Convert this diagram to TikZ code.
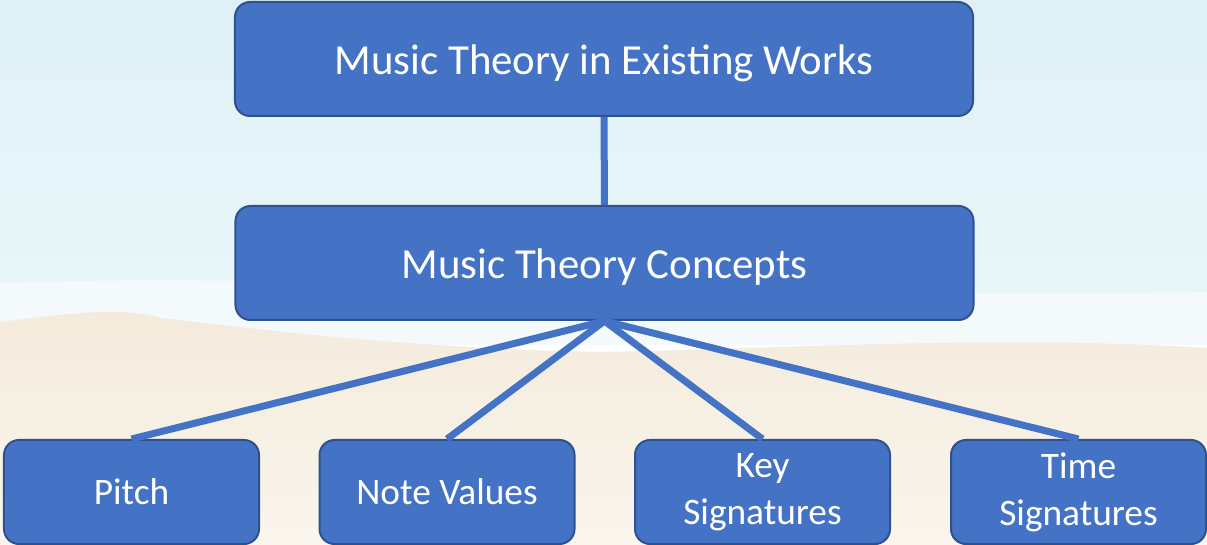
\documentclass[tikz,border=0pt]{standalone}
\usepackage{fontspec}
\setmainfont{Carlito}
\definecolor{boxfill}{HTML}{4472C4}
\definecolor{boxline}{HTML}{2F528F}
\definecolor{skytop}{HTML}{DFF1F6}
\definecolor{skybot}{HTML}{E9F6F9}
\definecolor{foam}{HTML}{F4F9FC}
\definecolor{sandtop}{HTML}{F3EADB}
\definecolor{sandbot}{HTML}{FAF6EE}
\tikzset{
  bigbox/.style={draw=boxline, line width=2bp, fill=boxfill, rounded corners=15bp,
    minimum width=738bp, minimum height=114bp, text=white,
    text height=32bp, text depth=0pt,
    font=\fontsize{43}{52}\selectfont},
  smallbox/.style={draw=boxline, line width=2bp, fill=boxfill, rounded corners=15bp,
    minimum width=255bp, minimum height=104bp, text=white, align=center,
    font=\fontsize{37.5}{47}\selectfont},
  conn/.style={draw=boxfill, line width=7bp}
}
\begin{document}
\begin{tikzpicture}[x=1bp,y=-1bp]
\useasboundingbox (0,0) rectangle (1207,545);
% background
\shade[top color=skytop, bottom color=skybot] (0,0) rectangle (1207,300);
\fill[foam] (0,280) rectangle (1207,345);
\fill[skybot] (0,283) .. controls (300,272) and (700,300) .. (1207,292) -- (1207,275) -- (0,275) -- cycle;
\shade[top color=sandtop, bottom color=sandbot]
  (0,322) .. controls (50,316) and (120,305) .. (160,318)
  .. controls (250,328) and (400,348) .. (600,352)
  .. controls (800,348) and (1000,335) .. (1207,348)
  -- (1207,545) -- (0,545) -- cycle;
% nodes
\node[bigbox] (top) at (604,59) {Music Theory in Existing Works};
\node[bigbox] (mid) at (604.5,263) {Music Theory Concepts};
\node[smallbox] (pitch) at (131.5,492) {Pitch};
\node[smallbox] (notes) at (447,492) {Note Values};
\node[smallbox] (keys) at (762.5,492) {Key\\Signatures};
\node[smallbox] (time) at (1078.5,492) {Time\\Signatures};
% connectors
\draw[conn] (top.south) -- (mid.north);
\draw[conn] (mid.south) -- (pitch.north);
\draw[conn] (mid.south) -- (notes.north);
\draw[conn] (mid.south) -- (keys.north);
\draw[conn] (mid.south) -- (time.north);
\end{tikzpicture}
\end{document}
